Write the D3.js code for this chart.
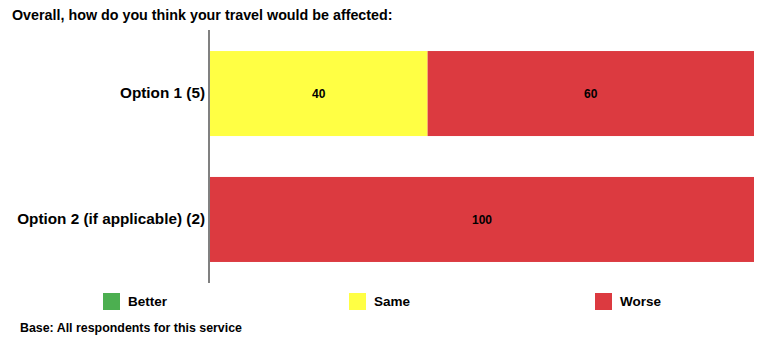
<!DOCTYPE html>
<html>
<head>
<meta charset="utf-8">
<script src="https://cdn.jsdelivr.net/npm/d3@7"></script>
<style>
  body { margin: 0; background: #fff; }
  svg { display: block; font-family: "Liberation Sans", Arial, sans-serif; }
</style>
</head>
<body>
<svg id="chart" width="759" height="342"></svg>
<script>
// Survey responses: share of respondents per answer, per option
const categories = ["Option 1 (5)", "Option 2 (if applicable) (2)"];
const seriesNames = ["Better", "Same", "Worse"];
const better = [0, 0];
const same = [40, 0];
const worse = [60, 100];
const seriesColors = ["#4CAF50", "#FFFF44", "#DC3A40"];

const svg = d3.select("#chart");

const rows = categories.map((c, i) => ({ cat: c, Better: better[i], Same: same[i], Worse: worse[i] }));
const stacked = d3.stack().keys(seriesNames)(rows);

const x = d3.scaleLinear().domain([0, 100]).range([210, 754]);
const y = d3.scaleBand().domain(categories).range([30, 283])
  .paddingInner(0.325).paddingOuter(0.167);
const color = d3.scaleOrdinal().domain(seriesNames).range(seriesColors);

// Title
svg.append("text")
  .attr("x", 12).attr("y", 20)
  .attr("font-size", 14.3).attr("font-weight", "bold")
  .text("Overall, how do you think your travel would be affected:");

// Stacked bar segments
const layer = svg.append("g").selectAll("g").data(stacked).join("g")
  .attr("fill", d => color(d.key));

layer.selectAll("rect").data(d => d).join("rect")
  .attr("x", d => x(d[0]))
  .attr("y", d => y(d.data.cat))
  .attr("width", d => x(d[1]) - x(d[0]))
  .attr("height", y.bandwidth());

// Value labels centred in each non-empty segment
stacked.forEach(s => {
  svg.append("g").selectAll("text").data(s.filter(d => d[1] - d[0] > 0)).join("text")
    .attr("x", d => (x(d[0]) + x(d[1])) / 2)
    .attr("y", d => y(d.data.cat) + y.bandwidth() / 2)
    .attr("dy", "0.35em")
    .attr("text-anchor", "middle")
    .attr("font-size", 12).attr("font-weight", "bold")
    .attr("fill", "#000")
    .text(d => d[1] - d[0]);
});

// Category axis
const yAxis = svg.append("g").attr("transform", "translate(209,0)")
  .call(d3.axisLeft(y).tickSize(0).tickPadding(4));
yAxis.select(".domain").remove();
yAxis.selectAll("text")
  .attr("font-size", 15.3).attr("font-weight", "bold")
  .attr("font-family", "Liberation Sans, Arial, sans-serif")
  .attr("fill", "#000");
svg.append("line")
  .attr("x1", 209).attr("x2", 209).attr("y1", 30).attr("y2", 283)
  .attr("stroke", "#808080").attr("stroke-width", 2);

// Legend
const legendX = [103, 349, 595];
const legend = svg.append("g").selectAll("g").data(seriesNames).join("g")
  .attr("transform", (d, i) => `translate(${legendX[i]},293)`);
legend.append("rect")
  .attr("width", 17).attr("height", 17)
  .attr("fill", d => color(d));
legend.append("text")
  .attr("x", 25).attr("y", 8.5).attr("dy", "0.35em")
  .attr("font-size", 13.5).attr("font-weight", "bold")
  .text(d => d);

// Footnote
svg.append("text")
  .attr("x", 20).attr("y", 332)
  .attr("font-size", 12.4).attr("font-weight", "bold")
  .text("Base: All respondents for this service");
</script>
</body>
</html>
